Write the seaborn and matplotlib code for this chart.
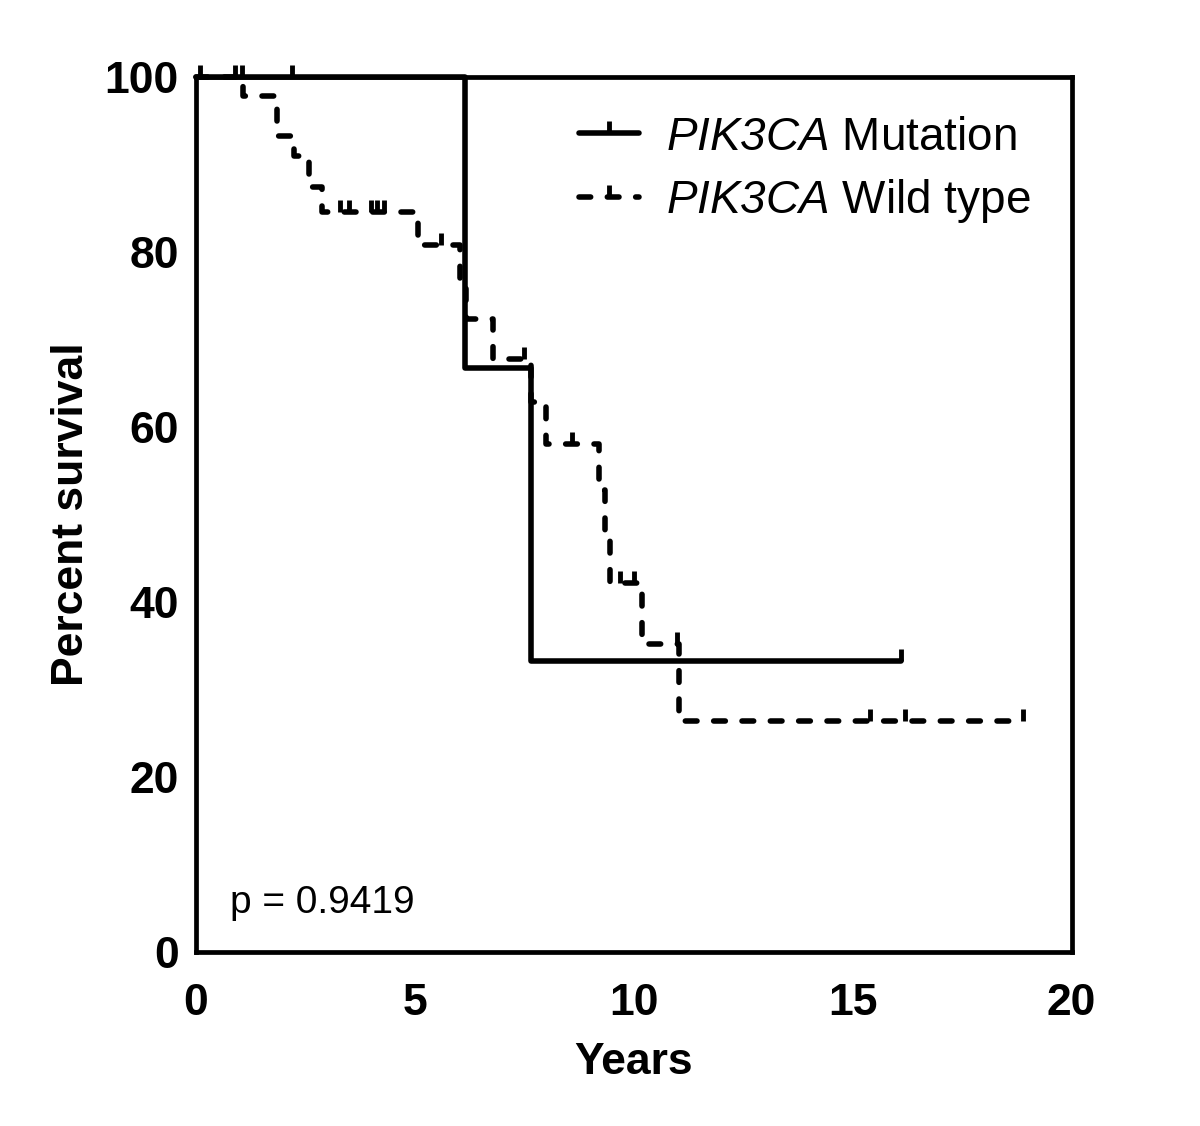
import numpy as np
import pandas as pd
import seaborn as sns
import matplotlib
matplotlib.use("Agg")
import matplotlib.pyplot as plt
from matplotlib.lines import Line2D

# Kaplan-Meier steps (years, percent survival)
mut_times = [0, 6.16, 7.65, 16.1]
mut_surv = [100, 66.7, 33.3, 33.3]
mut_censor_times = [2.2, 16.1]
mut_censor_surv = [100, 33.3]

wt_times = [0, 1.08, 1.85, 2.25, 2.6, 2.88, 5.07, 6.03, 6.18, 6.78, 7.65,
            8.0, 9.2, 9.35, 9.45, 10.2, 11.03, 18.88]
wt_surv = [100, 97.8, 93.3, 91.0, 87.4, 84.6, 80.8, 76.4, 72.3, 67.8, 62.9,
           58.1, 52.8, 47.5, 42.2, 35.2, 26.4, 26.4]
wt_censor_times = [0.1, 0.9, 1.05, 3.3, 3.5, 4.0, 4.15, 4.3, 5.6, 7.5,
                   8.6, 9.7, 10.0, 11.0, 15.4, 16.2, 18.88]
wt_censor_surv = [100, 100, 100, 84.6, 84.6, 84.6, 84.6, 84.6, 80.8, 67.8,
                  58.1, 42.2, 42.2, 35.2, 26.4, 26.4, 26.4]

group_labels = [r"$\mathrm{PIK3CA}$ Mutation", r"$\mathrm{PIK3CA}$ Wild type"]
p_text = "p = 0.9419"

sns.set_style("white")
plt.rcParams["font.family"] = ["Liberation Sans", "DejaVu Sans"]
plt.rcParams["text.color"] = "black"
plt.rcParams["axes.labelcolor"] = "black"
plt.rcParams["xtick.color"] = "black"
plt.rcParams["ytick.color"] = "black"
# gene symbol fully italic (digits too)
plt.rcParams["mathtext.fontset"] = "custom"
plt.rcParams["mathtext.rm"] = "Liberation Sans:italic"
plt.rcParams["mathtext.it"] = "Liberation Sans:italic"

LW = 4.0
dash_style = (0, (2.1, 3.0))
FS = 32

fig = plt.figure(figsize=(12, 11.26), dpi=100)
ax = fig.add_axes([0.163, 0.1545, 0.73, 0.7771])

mut_df = pd.DataFrame({"Years": mut_times, "Survival": mut_surv})
wt_df = pd.DataFrame({"Years": wt_times, "Survival": wt_surv})

sns.lineplot(data=wt_df, x="Years", y="Survival", ax=ax, color="black",
             drawstyle="steps-post", estimator=None, sort=False, lw=LW,
             linestyle=dash_style, dash_capstyle="round", clip_on=False)
sns.lineplot(data=mut_df, x="Years", y="Survival", ax=ax, color="black",
             drawstyle="steps-post", estimator=None, sort=False, lw=LW,
             clip_on=False)

# censor ticks
ax.plot(wt_censor_times, wt_censor_surv, ls="none", marker=2, ms=9,
        mew=3.5, color="black", clip_on=False)
ax.plot(mut_censor_times, mut_censor_surv, ls="none", marker=2, ms=9,
        mew=3.5, color="black", clip_on=False)

ax.set_xlim(0, 20)
ax.set_ylim(0, 100)
ax.set_xticks([0, 5, 10, 15, 20])
ax.set_yticks([0, 20, 40, 60, 80, 100])
for s in ax.spines.values():
    s.set_linewidth(3.4)
    s.set_color("black")
ax.tick_params(axis="both", direction="out", length=9, width=3.4,
               labelsize=FS, color="black", labelcolor="black")
ax.tick_params(axis="x", pad=13)
ax.tick_params(axis="y", pad=3)
for lab in ax.get_xticklabels() + ax.get_yticklabels():
    lab.set_fontweight("bold")

ax.set_xlabel("Years", fontsize=FS, fontweight="bold", labelpad=13)
ax.set_ylabel("Percent survival", fontsize=FS, fontweight="bold", labelpad=9)

ax.text(0.78, 5.6, p_text, fontsize=28, va="center", ha="left")

handles = [
    Line2D([], [], color="black", lw=LW, marker=2, ms=9, mew=3.5),
    Line2D([], [], color="black", lw=LW, linestyle=dash_style,
           dash_capstyle="round", marker=2, ms=9, mew=3.5),
]
ax.legend(handles, group_labels, loc="upper left",
          bbox_to_anchor=(0.438, 0.956), frameon=False, fontsize=33,
          handlelength=1.31, handletextpad=0.59, labelspacing=0.39,
          borderaxespad=0, borderpad=0)

fig.savefig("out.png", dpi=100)
